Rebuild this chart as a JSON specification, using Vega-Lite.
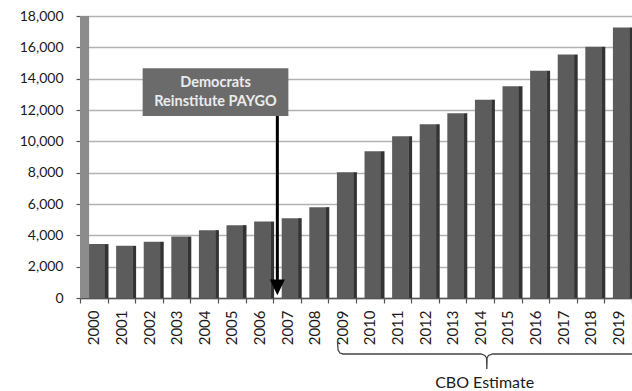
{
  "$schema": "https://vega.github.io/schema/vega-lite/v6.json",
  "width": 552,
  "height": 282,
  "autosize": {"type": "none"},
  "padding": {"left": 80, "top": 16, "right": 0, "bottom": 93},
  "background": "white",
  "config": {"view": {"stroke": null}, "font": "Lato"},
  "data": {"values": [{}]},
  "datasets": {
    "spending": [
      {"year": "2000", "value": 3440},
      {"year": "2001", "value": 3330},
      {"year": "2002", "value": 3590},
      {"year": "2003", "value": 3920},
      {"year": "2004", "value": 4330},
      {"year": "2005", "value": 4650},
      {"year": "2006", "value": 4880},
      {"year": "2007", "value": 5095},
      {"year": "2008", "value": 5800},
      {"year": "2009", "value": 8030},
      {"year": "2010", "value": 9370},
      {"year": "2011", "value": 10330},
      {"year": "2012", "value": 11090},
      {"year": "2013", "value": 11800},
      {"year": "2014", "value": 12660},
      {"year": "2015", "value": 13520},
      {"year": "2016", "value": 14500},
      {"year": "2017", "value": 15540},
      {"year": "2018", "value": 16030},
      {"year": "2019", "value": 17260}
    ],
    "brace": [
      {"order": 1, "pos": 9.33, "level": -2808},
      {"order": 2, "pos": 9.35, "level": -3319},
      {"order": 3, "pos": 9.42, "level": -3511},
      {"order": 4, "pos": 9.53, "level": -3574},
      {"order": 5, "pos": 14.53, "level": -3574},
      {"order": 6, "pos": 14.67, "level": -3670},
      {"order": 7, "pos": 14.73, "level": -3830},
      {"order": 8, "pos": 14.74, "level": -4532},
      {"order": 9, "pos": 14.75, "level": -3830},
      {"order": 10, "pos": 14.8, "level": -3670},
      {"order": 11, "pos": 14.95, "level": -3574},
      {"order": 12, "pos": 20, "level": -3574}
    ]
  },
  "layer": [
    {
      "data": {"name": "spending"},
      "mark": {"type": "bar", "width": {"band": 0.6}, "xOffset": 3, "color": "#5c5c5c"},
      "encoding": {
        "x": {
          "field": "year", "type": "ordinal", "title": null,
          "scale": {"paddingInner": 0, "paddingOuter": 0},
          "axis": {
            "labelAngle": -90, "labelFontSize": 15, "labelColor": "#1a1a1a",
            "labelPadding": 7, "tickSize": 5, "tickColor": "#555555", "tickWidth": 1.2,
            "tickBand": "extent", "domainColor": "#555555", "domainWidth": 1.5
          }
        },
        "y": {
          "field": "value", "type": "quantitative", "title": null,
          "scale": {"domain": [0, 18000], "nice": false},
          "axis": {
            "values": [0, 2000, 4000, 6000, 8000, 10000, 12000, 14000, 16000, 18000],
            "format": ",.0f", "labelFontSize": 14, "labelColor": "#1a1a1a", "labelPadding": 13,
            "tickSize": 4, "tickColor": "#555555", "tickWidth": 1.2,
            "domainColor": "#777777", "grid": true, "gridColor": "#b2b2b2", "gridWidth": 1.6
          }
        }
      }
    },
    {
      "data": {"name": "spending"},
      "mark": {"type": "bar", "width": 3.6, "xOffset": 12.9, "color": "#333333"},
      "encoding": {
        "x": {"field": "year", "type": "ordinal", "scale": {"paddingInner": 0, "paddingOuter": 0}, "axis": null},
        "y": {"field": "value", "type": "quantitative", "scale": {"domain": [0, 18000], "nice": false}, "axis": null}
      }
    },
    {
      "mark": {"type": "rect", "color": "#8c8c8c"},
      "encoding": {
        "x": {"datum": 0, "type": "quantitative", "scale": {"domain": [0, 20], "nice": false, "zero": false}, "axis": null},
        "x2": {"datum": 0.33},
        "y": {"datum": 0, "type": "quantitative", "scale": {"domain": [0, 18000], "nice": false}, "axis": null},
        "y2": {"datum": 18000}
      }
    },
    {
      "mark": {"type": "rect", "color": "#6b6b6b"},
      "encoding": {
        "x": {"datum": 2.27, "type": "quantitative", "scale": {"domain": [0, 20], "nice": false, "zero": false}, "axis": null},
        "x2": {"datum": 7.55},
        "y": {"datum": 14662, "type": "quantitative", "scale": {"domain": [0, 18000], "nice": false}, "axis": null},
        "y2": {"datum": 11617}
      }
    },
    {
      "mark": {"type": "text", "align": "center", "baseline": "middle", "lineHeight": 19,
               "fontSize": 14.5, "fontWeight": "bold", "color": "#ececec"},
      "encoding": {
        "x": {"datum": 4.91, "type": "quantitative", "scale": {"domain": [0, 20], "nice": false, "zero": false}, "axis": null},
        "y": {"datum": 13742, "type": "quantitative", "scale": {"domain": [0, 18000], "nice": false}, "axis": null},
        "text": {"value": ["Democrats", "Reinstitute PAYGO"]}
      }
    },
    {
      "mark": {"type": "rule", "color": "#000000", "strokeWidth": 3},
      "encoding": {
        "x": {"datum": 7.15, "type": "quantitative", "scale": {"domain": [0, 20], "nice": false, "zero": false}, "axis": null},
        "y": {"datum": 11617, "type": "quantitative", "scale": {"domain": [0, 18000], "nice": false}, "axis": null},
        "y2": {"datum": 1150}
      }
    },
    {
      "mark": {"type": "point", "shape": "M-1,-1L1,-1L0,1.1Z", "size": 225, "filled": true, "color": "#000000", "opacity": 1},
      "encoding": {
        "x": {"datum": 7.15, "type": "quantitative", "scale": {"domain": [0, 20], "nice": false, "zero": false}, "axis": null},
        "y": {"datum": 700, "type": "quantitative", "scale": {"domain": [0, 18000], "nice": false}, "axis": null}
      }
    },
    {
      "data": {"name": "brace"},
      "mark": {"type": "line", "color": "#444444", "strokeWidth": 1.3},
      "encoding": {
        "x": {"field": "pos", "type": "quantitative", "scale": {"domain": [0, 20], "nice": false, "zero": false}, "axis": null},
        "y": {"field": "level", "type": "quantitative", "scale": {"domain": [0, 18000], "nice": false}, "axis": null},
        "order": {"field": "order", "type": "quantitative"}
      }
    },
    {
      "mark": {"type": "text", "align": "center", "baseline": "alphabetic", "fontSize": 16, "color": "#1a1a1a"},
      "encoding": {
        "x": {"datum": 14.66, "type": "quantitative", "scale": {"domain": [0, 20], "nice": false, "zero": false}, "axis": null},
        "y": {"datum": -5730, "type": "quantitative", "scale": {"domain": [0, 18000], "nice": false}, "axis": null},
        "text": {"value": "CBO Estimate"}
      }
    }
  ],
  "resolve": {"scale": {"x": "independent"}, "axis": {"y": "independent"}}
}
